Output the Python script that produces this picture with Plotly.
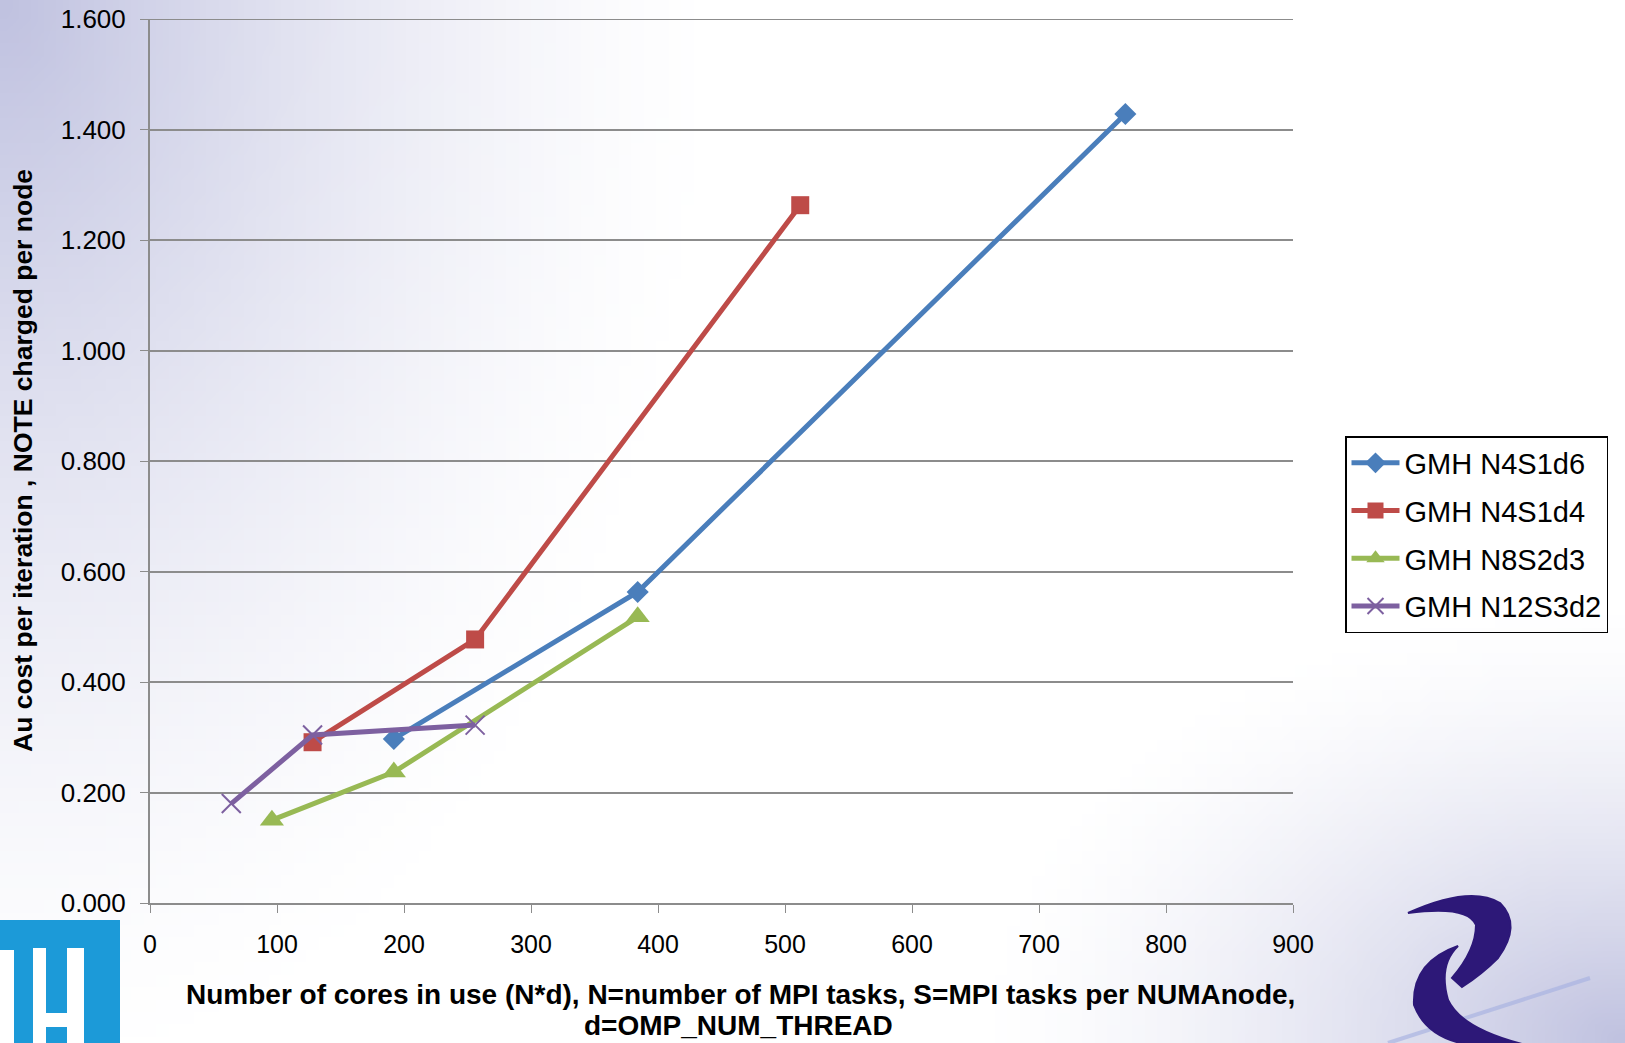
import base64, struct, zlib
import plotly.graph_objects as go

# ---------------- data ----------------
series_names = ["GMH N4S1d6", "GMH N4S1d4", "GMH N8S2d3", "GMH N12S3d2"]
cores_n4s1d6 = [192, 384, 768]
cost_n4s1d6 = [0.297, 0.563, 1.428]
cores_n4s1d4 = [128, 256, 512]
cost_n4s1d4 = [0.291, 0.477, 1.263]
cores_n8s2d3 = [96, 192, 384]
cost_n8s2d3 = [0.150, 0.237, 0.518]
cores_n12s3d2 = [64, 128, 256]
cost_n12s3d2 = [0.180, 0.304, 0.322]
y_ticks = [0, 0.2, 0.4, 0.6, 0.8, 1.0, 1.2, 1.4, 1.6]
x_ticks = [0, 100, 200, 300, 400, 500, 600, 700, 800, 900]

# ---------------- geometry helpers ----------------
W, H = 1625, 1043
L, R, T, B = 150, 1293, 19, 903
PW, PH = R - L, B - T


def px(X):
    return (X - L) / PW


def py(Y):
    return (B - Y) / PH


# ---------------- gradient background (generated PNG) ----------------
def make_png(w, h, fn):
    raw = b""
    for j in range(h):
        row = b"\x00"
        for i in range(w):
            row += bytes(fn(i / (w - 1), j / (h - 1)))
        raw += row

    def chunk(tag, data):
        c = struct.pack(">I", len(data)) + tag + data
        return c + struct.pack(">I", zlib.crc32(tag + data) & 0xffffffff)
    ihdr = struct.pack(">IIBBBBB", w, h, 8, 2, 0, 0, 0)
    return (b"\x89PNG\r\n\x1a\n" + chunk(b"IHDR", ihdr)
            + chunk(b"IDAT", zlib.compress(raw, 9)) + chunk(b"IEND", b""))


lav = (192, 194, 224)


def grad(u, v):
    X, Y = u * W, v * H
    d1 = ((X / 720) ** 2 + (Y / 1100) ** 2) ** 0.5
    d2 = (((W - X) / 650) ** 2 + ((H - Y) / 440) ** 2) ** 0.5
    w = max(0.0, 1 - d1, 1 - d2) ** 1.5
    return tuple(int(round(255 * (1 - w) + c * w)) for c in lav)


png = make_png(130, 84, grad)
src = "data:image/png;base64," + base64.b64encode(png).decode()

# ---------------- traces ----------------
colors = ["#4a7ebb", "#be4b48", "#98b954", "#7d60a0"]
symbols = ["diamond", "square", "triangle-up", "x-thin-open"]
sizes = [17, 18, 21, 19]
xs = [cores_n4s1d6, cores_n4s1d4, cores_n8s2d3, cores_n12s3d2]
ys = [cost_n4s1d6, cost_n4s1d4, cost_n8s2d3, cost_n12s3d2]

FONT = "Liberation Sans, Arial, sans-serif"

fig = go.Figure()
for name, x, y, c, s, sz in zip(series_names, xs, ys, colors, symbols, sizes):
    marker = dict(symbol=s, size=sz, color=c)
    if s == "x-thin-open":
        marker["line"] = dict(color=c, width=2)
    fig.add_trace(go.Scatter(
        x=x, y=y, name=name, mode="lines+markers",
        line=dict(color=c, width=5), marker=marker, legendgroup=name,
    ))

# ---------------- decorations (logos) ----------------
shapes = [
    dict(type="rect", xref="paper", yref="paper", x0=px(-10), x1=px(120),
         y0=py(920), y1=py(1050), fillcolor="#1c9ad8", line=dict(width=0),
         layer="below"),
    dict(type="rect", xref="paper", yref="paper", x0=px(-10), x1=px(14),
         y0=py(950), y1=py(1050), fillcolor="white", line=dict(width=0),
         layer="below"),
    dict(type="rect", xref="paper", yref="paper", x0=px(33), x1=px(46),
         y0=py(948), y1=py(1050), fillcolor="white", line=dict(width=0),
         layer="below"),
    dict(type="rect", xref="paper", yref="paper", x0=px(67), x1=px(84),
         y0=py(948), y1=py(1050), fillcolor="white", line=dict(width=0),
         layer="below"),
    dict(type="rect", xref="paper", yref="paper", x0=px(33), x1=px(84),
         y0=py(1013), y1=py(1027), fillcolor="white", line=dict(width=0),
         layer="below"),
]


def path(points_cmds):
    out = []
    for cmd, pts in points_cmds:
        coords = " ".join(f"{px(a):.5f},{py(b):.5f}" for a, b in pts)
        out.append(f"{cmd}{coords}")
    return " ".join(out)


swirl_color = "#2d1878"
shapes.append(dict(type="path", xref="paper", yref="paper", layer="above",
                   path=path([("M", [(1388, 1043)]), ("L", [(1590, 978)])]),
                   line=dict(color="rgba(170,180,225,0.7)", width=4)))
shapes.append(dict(type="path", xref="paper", yref="paper", layer="above",
                   path=path([("M", [(1408, 913)]),
                              ("Q", [(1470, 885), (1500, 903)]),
                              ("Q", [(1522, 925), (1498, 958)]),
                              ("Q", [(1482, 974), (1462, 987)]),
                              ("L", [(1452, 978)]),
                              ("Q", [(1476, 950), (1476, 925)]),
                              ("Q", [(1468, 905), (1408, 913)]), ("Z", [])]),
                   fillcolor=swirl_color, line=dict(color=swirl_color, width=2)))
shapes.append(dict(type="path", xref="paper", yref="paper", layer="above",
                   path=path([("M", [(1458, 946)]),
                              ("Q", [(1412, 962), (1414, 1005)]),
                              ("Q", [(1428, 1042), (1480, 1046)]),
                              ("L", [(1530, 1046)]),
                              ("Q", [(1462, 1030), (1448, 1000)]),
                              ("Q", [(1438, 965), (1458, 946)]), ("Z", [])]),
                   fillcolor=swirl_color, line=dict(color=swirl_color, width=2)))

annotations = [
    dict(xref="paper", yref="paper", x=px(740), y=py(994),
         text="<b>Number of cores in use (N*d), N=number of MPI tasks, S=MPI tasks per NUMAnode,</b>",
         showarrow=False, xanchor="center", yanchor="middle",
         font=dict(family=FONT, size=28, color="black")),
    dict(xref="paper", yref="paper", x=px(738), y=py(1025),
         text="<b>d=OMP_NUM_THREAD</b>",
         showarrow=False, xanchor="center", yanchor="middle",
         font=dict(family=FONT, size=28, color="black")),
    dict(xref="paper", yref="paper", x=px(23), y=py(461),
         text="<b>Au cost per iteration , NOTE charged per node</b>",
         textangle=-90, showarrow=False, xanchor="center", yanchor="middle",
         font=dict(family=FONT, size=26.5, color="black")),
]

grid = "#8c8c8c"
fig.update_layout(
    width=W, height=H,
    margin=dict(l=L, r=W - R, t=T, b=H - B, autoexpand=False),
    paper_bgcolor="white", plot_bgcolor="rgba(0,0,0,0)",
    font=dict(family=FONT, size=26, color="black"),
    images=[dict(source=src, xref="paper", yref="paper", x=px(0), y=py(0),
                 sizex=W / PW, sizey=H / PH, sizing="stretch",
                 xanchor="left", yanchor="top", layer="below")],
    shapes=shapes, annotations=annotations,
    xaxis=dict(range=[0, 900], tickvals=x_ticks, showgrid=False,
               zeroline=False, showline=True, linecolor=grid, linewidth=2,
               ticks="outside", ticklen=8, tickcolor=grid, tickwidth=1,
               ticklabelstandoff=10, tickfont=dict(size=25)),
    yaxis=dict(range=[0, 1.6], tickvals=y_ticks, tickformat=".3f",
               showgrid=True, gridcolor=grid, gridwidth=2, zeroline=False,
               showline=True, linecolor=grid, linewidth=2,
               ticks="outside", ticklen=8, tickcolor=grid, tickwidth=1,
               ticklabelstandoff=9, tickfont=dict(size=26)),
    legend=dict(x=px(1345), y=py(436), xanchor="left", yanchor="top",
                bgcolor="rgba(255,255,255,0)", bordercolor="black",
                borderwidth=1.5, font=dict(size=29, color="black"),
                traceorder="grouped", tracegroupgap=7, itemwidth=48),
    showlegend=True,
)
fig.add_hline(y=1.6, line=dict(color=grid, width=2), layer="below")

fig.write_html(
    "out.html",
    config={"displayModeBar": False},
    post_script="document.body.style.margin='0';document.body.style.overflow='hidden';",
)
